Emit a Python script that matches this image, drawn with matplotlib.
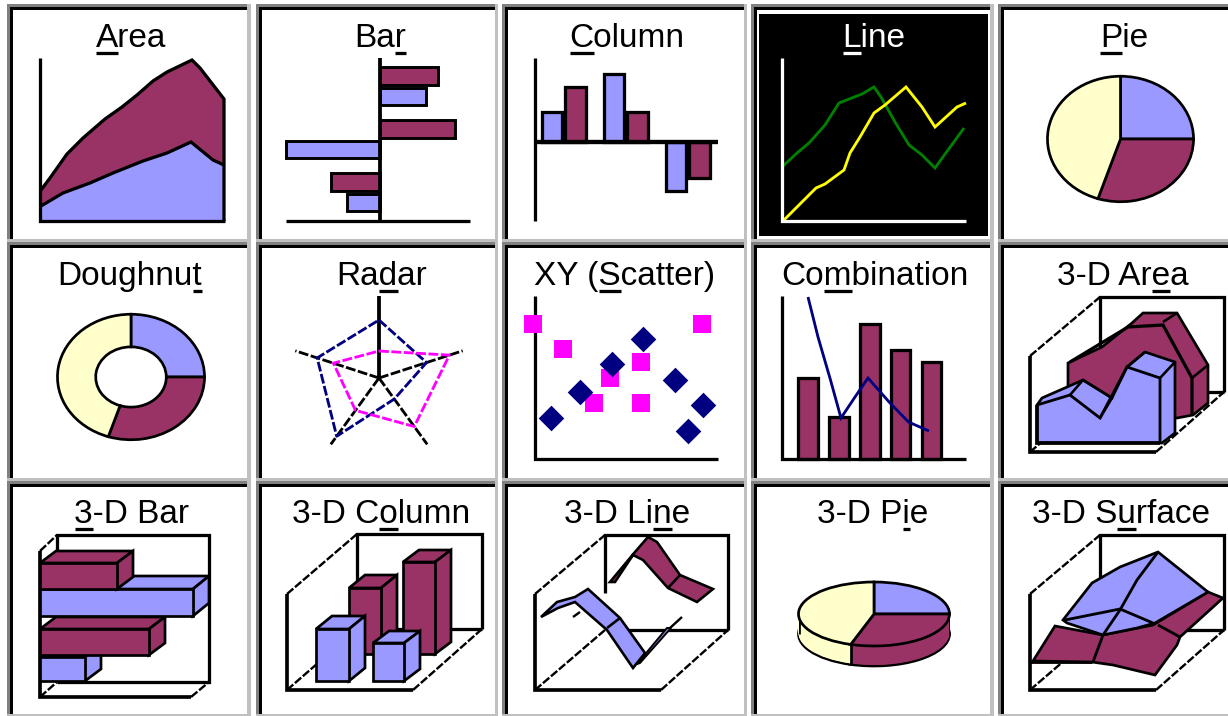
import itertools
import numpy as np
import matplotlib
matplotlib.use('Agg')
import matplotlib.pyplot as plt
from matplotlib.patches import Rectangle

plt.rcParams['font.family'] = ['Liberation Sans', 'DejaVu Sans']

BLUE = '#9999ff'
MAROON = '#993366'
CREAM = '#ffffcc'
NAVY = '#000080'
PINK = '#ff00ff'
W, H = 1228, 716
PX = 0.78  # one picture pixel in points, a bit heavy like the bitmap
TITLE_SIZE = 24

# grid of the dialog, picture pixels
CELL_L = [7, 256, 502, 751, 998]
CELL_R = [250.7, 498.3, 747, 993.5, 1232]
ROW_T = [4, 242, 481]
ROW_B = [242, 481, 716.5]
ROW_TEXT = [47, 285, 523]
ROW_LINE = [53, 291, 529]

TITLES = [['Area', 'Bar', 'Column', 'Line', 'Pie'],
          ['Doughnut', 'Radar', 'XY (Scatter)', 'Combination', '3-D Area'],
          ['3-D Bar', '3-D Column', '3-D Line', '3-D Pie', '3-D Surface']]
# which letter is underlined
TITLE_KEYS = [[0, 2, 0, 0, 0],
              [7, 2, 4, 2, 6],
              [0, 5, 6, 5, 5]]
TITLE_X = [[131, 380, 627, 874, 1124],
           [130, 382, 625, 875, 1123],
           [132, 381, 627, 873, 1121]]

# Area
area_top_x = [1, 10, 27, 43, 65, 82, 97, 113, 127, 152, 160, 184]
area_top_y = [31, 43, 67, 83, 102, 114, 126, 140, 149, 161, 153, 122]
area_low_x = [1, 23, 50, 73, 103, 127, 151, 173, 184]
area_low_y = [15, 28, 38, 48, 60, 68, 79, 61, 56]

# Bar and Column
bar_blue = [-33, -94, 46]
bar_maroon = [-49, 75, 58]
col_blue = [30, 68, -49]
col_maroon = [55, 30, -36]

# Line
line_yellow_x = [1, 20, 34, 43, 62, 68, 78, 92, 103, 124, 140, 153, 175, 184]
line_yellow_y = [0, 19, 33, 37, 51, 68, 84, 108, 116, 134, 114, 94, 114, 118]
line_green_x = [0, 15, 27, 43, 57, 80, 92, 99, 113, 127, 140, 153, 166, 182]
line_green_y = [54, 68, 78, 96, 118, 127, 134, 124, 99, 76, 66, 53, 71, 93]

# Pie, Doughnut, 3-D Pie
pie_values = [25, 30, 45]

# Radar, spokes clockwise from the top
radar_navy = [58, 50, 26, 72, 65]
radar_pink = [27, 74, 60, 40, 48]
radar_spoke = [82, 88, 82, 82, 88]

# XY (Scatter)
scatter_pink_x = [-2, 28, 75, 59, 106, 106, 167]
scatter_pink_y = [135, 110, 81, 56, 97, 56, 135]
scatter_navy_x = [16, 45, 77, 108, 140, 168, 153]
scatter_navy_y = [41, 67, 95, 120, 79, 54, 28]

# Combination
combo_bars = [81, 42, 135, 109, 97]
combo_line_x = [26, 36, 48.5, 59, 73, 86, 108, 126.5, 147]
combo_line_y = [162, 122, 79, 41, 62, 81, 56, 37, 28]

# 3-D Area
a3_back_x = [38, 72, 102, 113, 147, 178, 178, 163, 147, 38]
a3_back_y = [89, 105, 129, 139, 139, 87, 49, 37, 34, 34]
a3_ridge_x = [40, 98, 133, 162, 162]
a3_ridge_y = [90, 125, 127, 74, 37]
a3_front_x = [7, 12, 53, 82, 97, 115, 145, 145, 132, 7]
a3_front_y = [47, 54, 72, 54, 85, 100, 90, 19, 9, 9]
a3_face_x = [7, 40, 70, 97, 130, 130]
a3_face_y = [47, 57, 34, 85, 74, 9]

# 3-D Bar: lengths, and 3-D Column: heights, drawn back to front
bar3_blue = [45, 153]
bar3_maroon = [109, 77]
col3_maroon = [66, 92]
col3_blue = [52, 38]

# 3-D Line
l3_maroon_x = [75, 100, 113, 122, 145, 178, 162, 133, 108, 98, 80]
l3_maroon_y = [108, 138, 153, 148, 115, 101, 88, 102, 130, 135, 108]
l3_blue_x = [6, 22, 40, 53, 85, 110, 98, 72, 40, 23]
l3_blue_y = [73, 88, 93, 101, 72, 37, 22, 60, 88, 82]
l3_thin_x = [105, 136, 132, 102]
l3_thin_y = [27, 62, 62, 26]

# 3-D Surface
s3_maroon_x = [3, 25, 73, 123, 178, 193, 150, 147, 125, 83, 62]
s3_maroon_y = [29, 64, 55, 65, 98, 92, 53, 45, 15, 25, 28]
s3_blue_x = [33, 62, 90, 128, 178, 125, 107, 73, 37]
s3_blue_y = [70, 107, 123, 138, 98, 67, 62, 55, 67]

fig = plt.figure(figsize=(W / 100, H / 100), dpi=100, facecolor='white')
# keep the painting order the same as the order of the calls
layer = itertools.count(2)


def rect_axes(l, t, r, b):
    ax = fig.add_axes([l / W, 1 - b / H, (r - l) / W, (b - t) / H])
    ax.axis('off')
    ax.patch.set_alpha(0)
    return ax


def panel(col, row, ox, oy):
    """Axes over one cell, one unit is one pixel, origin on the chart origin"""
    l, r, t, b = CELL_L[col], CELL_R[col], ROW_T[row], ROW_B[row]
    ax = rect_axes(l, t, r, b)
    ax.set_xlim(l - ox, r - ox)
    ax.set_ylim(oy - b, oy - t)
    return ax


def rule(ax, xs, ys, width=3, color='black'):
    ax.plot(xs, ys, color=color, lw=width * PX, solid_capstyle='butt',
            solid_joinstyle='miter', zorder=next(layer))


def dashed(ax, xs, ys, width=2.2, color='black'):
    ax.plot(xs, ys, color=color, lw=width * PX, ls=(0, (3.5, 0.9)), zorder=next(layer))


def poly(ax, xs, ys, color, width=2.5):
    ax.fill(xs, ys, facecolor=color, edgecolor='black', lw=width * PX,
            joinstyle='miter', zorder=next(layer))


def pie_in(ax, center_y=0, edge=True, **kw):
    wp = {'edgecolor': 'black' if edge else 'none', 'linewidth': 2.5 * PX,
          'zorder': next(layer)}
    wp.update(kw)
    ax.pie(pie_values, colors=[BLUE, MAROON, CREAM], startangle=90,
           counterclock=False, center=(0, center_y), wedgeprops=wp)
    ax.set_aspect('auto')


def cube(ax, x, y, w, h, color, dx=16, dy=13):
    poly(ax, [x, x + dx, x + w + dx, x + w], [y + h, y + h + dy, y + h + dy, y + h], color)
    poly(ax, [x + w, x + w + dx, x + w + dx, x + w], [y, y + dy, y + h + dy, y + h], color)
    poly(ax, [x, x + w, x + w, x], [y, y, y + h, y + h], color)


def box3d(ax, front=126, back=70, right=194, floor=60, top=155, left=96,
          back_low=None, floor_from=None):
    rule(ax, [back, back, right, right], [floor if back_low is None else back_low, top, top, floor])
    rule(ax, [back if floor_from is None else floor_from, right], [floor, floor])
    rule(ax, [0, 0, front], [left, 0, 0], width=3.4)
    dashed(ax, [0, back], [left, top])
    dashed(ax, [0, back], [0, floor])
    dashed(ax, [front, right], [0, floor])


# cell frames and titles
frame = rect_axes(0, 0, W, H)
frame.set_xlim(0, W)
frame.set_ylim(H, 0)
for r in range(3):
    for c in range(5):
        l, rt, t, b = CELL_L[c], CELL_R[c], ROW_T[r], ROW_B[r]
        for box, shade in [((l, t, rt, b), '#c0c0c0'),
                           ((l, t, rt - 3.5, b - 3), '#808080'),
                           ((l + 3, t + 3, rt - 3.5, b - 3), 'black'),
                           ((l + 5.5, t + 5.5, rt - 3.5, b - 3), 'white')]:
            frame.add_patch(Rectangle((box[0], box[1]), box[2] - box[0], box[3] - box[1],
                                      facecolor=shade, edgecolor='none'))
frame.add_patch(Rectangle((759, 14), 229, 222, facecolor='black', edgecolor='none'))

renderer = fig.canvas.get_renderer()


def text_width(s):
    tmp = frame.text(0, 0, s + 'x', fontsize=TITLE_SIZE)
    full = tmp.get_window_extent(renderer).width
    tmp.set_text('x')
    full -= tmp.get_window_extent(renderer).width
    tmp.remove()
    return full


for r in range(3):
    for c in range(5):
        name = TITLES[r][c]
        shade = 'white' if name == 'Line' else 'black'
        frame.text(TITLE_X[r][c], ROW_TEXT[r], name, fontsize=TITLE_SIZE, color=shade,
                   ha='center', va='baseline')
        k = TITLE_KEYS[r][c]
        start = TITLE_X[r][c] - text_width(name) / 2 + text_width(name[:k])
        end = TITLE_X[r][c] - text_width(name) / 2 + text_width(name[:k + 1])
        rule(frame, [start, end], [ROW_LINE[r], ROW_LINE[r]], color=shade)

# Area
ax = panel(0, 0, 40, 221)
ax.fill_between(area_top_x, 0, area_top_y, color=MAROON, lw=0, zorder=1)
ax.fill_between(area_low_x, 0, area_low_y, color=BLUE, lw=0, zorder=1.5)
rule(ax, area_top_x + [184], area_top_y + [0])
rule(ax, area_low_x, area_low_y)
rule(ax, [0, 0, 185], [163, 0, 0])

# Bar
ax = panel(1, 0, 380, 221)
rows = np.arange(3)
ax.barh(19 + 53 * rows, bar_blue, height=17, color=BLUE, edgecolor='black', lw=2.7 * PX)
ax.barh(39.5 + 53 * rows, bar_maroon, height=18, color=MAROON, edgecolor='black', lw=2.7 * PX)
rule(ax, [-94, 90], [0, 0])
rule(ax, [0, 0], [0, 163], width=3.5)

# Column
ax = panel(2, 0, 535, 141.7)
groups = np.arange(3)
ax.bar(17 + 62 * groups, col_blue, width=20, color=BLUE, edgecolor='black', lw=3 * PX)
ax.bar(40 + 62 * groups, col_maroon, width=21, color=MAROON, edgecolor='black', lw=3 * PX)
rule(ax, [0, 183], [0, 0], width=4)
rule(ax, [0, 0], [-79, 84])

# Line
ax = panel(3, 0, 782, 221)
rule(ax, line_green_x, line_green_y, width=2.6, color='#008000')
rule(ax, line_yellow_x, line_yellow_y, width=2.6, color='#ffff00')
rule(ax, [0, 0, 184], [163, 0, 0], color='white')

# Pie
ax = rect_axes(1046, 75, 1195, 203)
pie_in(ax)
ax.set_xlim(-1.02, 1.02)
ax.set_ylim(-1.02, 1.02)

# Doughnut
ax = rect_axes(56, 313, 206, 441)
pie_in(ax, width=0.52)
ax.set_xlim(-1.02, 1.02)
ax.set_ylim(-1.02, 1.02)

# Radar
ax = panel(1, 1, 379, 378)
angles = np.deg2rad([90, 18, -54, -126, 162])
for n, (a, s) in enumerate(zip(angles, radar_spoke)):
    if n == 0:
        rule(ax, [0, 0], [0, s], width=3.5)
    else:
        dashed(ax, [0, s * np.cos(a)], [0, s * np.sin(a)], width=2.6)
for vals, shade in [(radar_navy, NAVY), (radar_pink, PINK)]:
    vals = np.array(vals + vals[:1])
    a = np.append(angles, angles[0])
    dashed(ax, vals * np.cos(a), vals * np.sin(a), width=2.6, color=shade)

# XY (Scatter)
ax = panel(2, 1, 535, 459)
rule(ax, [0, 0, 183], [163, 0, 0])
ax.scatter(scatter_pink_x, scatter_pink_y, marker='s', s=187, color=PINK, lw=0, zorder=next(layer))
ax.scatter(scatter_navy_x, scatter_navy_y, marker='D', s=170, color=NAVY, lw=0, zorder=next(layer))

# Combination
ax = panel(3, 1, 782, 459)
ax.bar(26 + 30.9 * np.arange(5), combo_bars, width=19.5, color=MAROON, edgecolor='black', lw=3 * PX)
rule(ax, combo_line_x, combo_line_y, width=2.6, color=NAVY)
rule(ax, [0, 0, 184], [163, 0, 0])

# 3-D Area
ax = panel(4, 1, 1030, 452)
box3d(ax)
poly(ax, a3_back_x, a3_back_y, MAROON)
rule(ax, a3_ridge_x, a3_ridge_y, width=3)
rule(ax, [133, 147], [130, 139], width=2.4)
rule(ax, [162, 178], [74, 87], width=2.4)
poly(ax, a3_front_x, a3_front_y, BLUE)
rule(ax, a3_face_x, a3_face_y, width=2.6)
rule(ax, [7, 7, 130], [47, 9, 9], width=3.4)
rule(ax, [53, 82, 70], [72, 54, 34], width=2.4)
rule(ax, [40, 53], [57, 72], width=2.4)
rule(ax, [97, 115], [85, 100], width=2.4)
rule(ax, [130, 145], [74, 90], width=2.4)

# 3-D Bar
ax = panel(0, 2, 40, 697)
rule(ax, [17, 17, 169, 169, 17], [146, 162, 162, 15, 15])
rule(ax, [0, 0, 151], [146, 0, 0], width=3.4)
dashed(ax, [0, 17], [146, 162])
dashed(ax, [0, 17], [0, 15])
dashed(ax, [151, 169], [0, 15])
cube(ax, 0, 16, bar3_blue[0], 24, BLUE, dy=12)
cube(ax, 0, 42, bar3_maroon[0], 26, MAROON, dy=12)
cube(ax, 0, 81, bar3_blue[1], 27, BLUE, dy=13)
cube(ax, 0, 108, bar3_maroon[1], 26, MAROON, dy=12)

# 3-D Column
ax = panel(1, 2, 287, 690)
box3d(ax, right=195, floor=61, top=156)
cube(ax, 62, 36, 32, col3_maroon[0], MAROON)
cube(ax, 116, 36, 32, col3_maroon[1], MAROON, dy=12)
cube(ax, 29, 9, 33, col3_blue[0], BLUE)
cube(ax, 86, 9, 31, col3_blue[1], BLUE, dy=12)

# 3-D Line
ax = panel(2, 2, 535, 690)
box3d(ax, right=193, back_low=97, floor_from=93)
poly(ax, l3_maroon_x, l3_maroon_y, MAROON, width=2.4)
rule(ax, [133, 145], [102, 115], width=2.4)
rule(ax, [135, 147], [62, 73], width=2.2)
poly(ax, l3_thin_x, l3_thin_y, BLUE, width=1.8)
poly(ax, l3_blue_x, l3_blue_y, BLUE, width=2.4)
rule(ax, [72, 85], [62, 72], width=2.4)
rule(ax, [38, 45], [73, 78], width=2.2)

# 3-D Pie, side first and the top slices over it
ax = rect_axes(798.5, 582, 949.5, 666)
lift = 20 / 32
pie_in(ax, center_y=-lift)
for y in np.linspace(-lift + 0.03, 0, 30):
    pie_in(ax, center_y=y, edge=False)
split = np.deg2rad(90 - 360 * sum(pie_values[:2]) / sum(pie_values))
rule(ax, [-1, -1], [0, -lift], width=2.5)
rule(ax, [1, 1], [0, -lift], width=2.5)
rule(ax, [np.cos(split)] * 2, [np.sin(split), np.sin(split) - lift], width=2.5)
pie_in(ax)
ax.set_xlim(-1, 1)
ax.set_ylim(-1 - lift, 1)

# 3-D Surface
ax = panel(4, 2, 1030, 690)
box3d(ax)
rule(ax, [0, 62], [28, 28], width=2.6)
poly(ax, s3_maroon_x, s3_maroon_y, MAROON)
poly(ax, s3_blue_x, s3_blue_y, BLUE)
rule(ax, [73, 63], [55, 28], width=2.6)
rule(ax, [128, 150], [65, 53], width=2.6)
rule(ax, [128, 107, 90, 73], [138, 110, 80, 55], width=2.6)
rule(ax, [35, 90, 123], [70, 81, 67], width=2.6)

fig.savefig('out.png', dpi=100, facecolor='white')
